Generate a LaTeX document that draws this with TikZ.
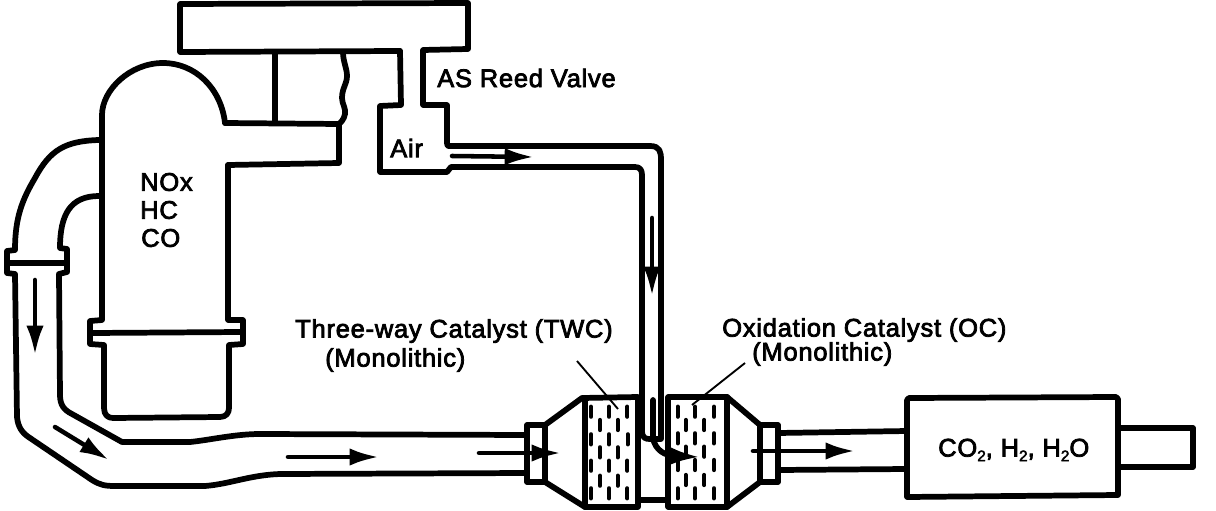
\documentclass[tikz,border=0pt]{standalone}
\usepackage{fontspec}
\usetikzlibrary{arrows.meta}
\newfontfamily\labfont[FakeBold=3,LetterSpace=3]{Liberation Sans}
\newcommand{\subtwo}{\raisebox{-3.5pt}{\fontsize{11.5pt}{12pt}\selectfont 2}}
\tikzset{
  wall/.style={line width=4.3pt,line join=round,line cap=round,black},
  leader/.style={line width=1.4pt,black},
  flow/.style={line width=3.4pt,line cap=round,black,-{Latex[length=22pt,width=13pt]}},
  pellet/.style={line width=3.2pt,line cap=round,black},
  lab/.style={font=\labfont\fontsize{19.1pt}{22pt}\selectfont,inner sep=0pt,black,anchor=west},
}
\begin{document}
\begin{tikzpicture}[x=0.75pt,y=-0.75pt]
\path[use as bounding box,fill=white] (0,0) rectangle (1216,510);
% plenum, reed valve and air chamber
\draw[wall] (400,51) -- (180,52) -- (180,4) -- (468,3) -- (468,49) -- (423,50) -- (423,105) -- (447,105) -- (447,143) .. controls (447,146) .. (451,146) -- (650,146) .. controls (660,146) and (661,152) .. (661,160) -- (661,400);
\draw[wall] (400,51) -- (401,105) -- (380,106) -- (380,172) -- (447,172) -- (451,167) -- (635,167) .. controls (640,167) and (642,170) .. (642,175) -- (642,430);
\draw[wall] (275,52) -- (275,123);
\draw[wall] (343,52) .. controls (343,62) and (347,68) .. (347,76) .. controls (347,84) and (342,88) .. (342,98) .. controls (342,104) and (346,108) .. (345,114) .. controls (344,120) and (340,123) .. (339,124) -- (339,163) -- (228,165);
% manifold
\draw[wall] (225,123) -- (339,124);
\draw[wall] (225,123) .. controls (221,88) and (195,63) .. (163,63) .. controls (130,63) and (102,90) .. (102,115) -- (102,320) -- (90,321) -- (90,344) -- (104,345) -- (104,408) .. controls (104,415) and (108,418) .. (113,418) -- (220,417) .. controls (226,417) and (229,413) .. (229,408) -- (229,345) -- (243,344) -- (243,320) -- (228,320) -- (228,165);
\draw[wall] (92,333) -- (241,332);
% exhaust pipe
\draw[wall] (99,140) .. controls (65,141) and (50,150) .. (35,178) .. controls (22,200) and (15,218) .. (15,250) -- (7,251) -- (7,273) -- (15,274) -- (17,417) .. controls (18,427) and (22,433) .. (30,438) -- (92,480) .. controls (100,485) and (105,486) .. (115,486) -- (205,486) .. controls (230,484) and (250,475) .. (280,474) -- (527,473);
\draw[wall] (99,196) .. controls (70,196) and (60,215) .. (60,248) -- (67,249) -- (67,272) -- (59,274) -- (60,395) .. controls (60,405) and (64,410) .. (72,414) -- (122,442) -- (190,442) .. controls (210,440) and (235,434) .. (260,434) -- (527,435);
\draw[wall] (9,263) -- (65,263);
% three-way catalyst
\draw[wall] (527,425) rectangle (545,482);
\draw[wall] (545,425) -- (582,398) -- (638,397) -- (638,507) -- (585,507) -- (545,482);
\draw[wall] (585,400) -- (585,507);
% oxidation catalyst
\draw[wall] (727,397) -- (668,397) -- (668,507) -- (727,507) -- (760,482);
\draw[wall] (727,397) -- (727,507);
\draw[wall] (727,397) -- (760,425);
\draw[wall] (760,425) rectangle (778,482);
\draw[wall] (638,500) -- (668,500);
% air injection tube end
\draw[wall] (642,430) .. controls (642,438) and (645,439) .. (650,439) -- (661,439) -- (661,400);
\draw[wall] (653,400) -- (653,438) .. controls (655,450) and (665,456) .. (676,456);
% outlet pipes and muffler
\draw[wall] (778,433) -- (907,431);
\draw[wall] (778,470) -- (907,469);
\draw[wall] (909,398) -- (1116,397) -- (1118,399) -- (1118,495) -- (907,497) -- (907,400) -- cycle;
\draw[wall] (1118,428) -- (1193,428) -- (1193,467) -- (1118,467);
% pellets
\foreach \x/\y in {243/125,297/125,352/125,270/165,323/165,243/208,297/208,353/208,270/247,323/247,243/287,297/287,352/287,270/332,323/332,243/370,297/370,352/370,
503/125,555/125,612/125,527/165,583/165,503/205,555/205,612/205,527/245,583/245,503/285,555/285,612/285,527/330,583/330,503/370,555/370,612/370}
  \draw[pellet] (510+\x/3,370+\y/3-5) -- (510+\x/3,370+\y/3+5);
% leaders
\draw[leader] (577,361) -- (618,409);
\draw[leader] (745,363) -- (692,405);
% flow arrows
\draw[flow] (452,156) -- (534,157);
\draw[flow] (652,218) -- (652,296);
\draw[flow] (35,280) -- (35,355);
\draw[flow] (55,427) -- (109,460);
\draw[flow] (288,457) -- (379,457);
\draw[flow] (479,453) -- (561,453);
\draw[flow] (670,456) -- (700,457);
\draw[flow] (753,451) -- (855,451);
% labels
\node[lab] (nox) at (140,182) {NOx};
\node[lab] (hc) at (140,210) {HC};
\node[lab] (co) at (141,238) {CO};
\node[lab] (air) at (390,148) {Air};
\node[lab] (reed) at (437,78) {AS Reed Valve};
\node[lab] (twc) at (295,331) {Three-way Catalyst (TWC)};
\node[lab] (twcm) at (325,360) {(Monolithic)};
\node[lab] (oc) at (722,330) {Oxidation Catalyst (OC)};
\node[lab] (ocm) at (752,354) {(Monolithic)};
\node[lab] (gas) at (938,450) {CO\subtwo, H\subtwo, H\subtwo O};
\end{tikzpicture}
\end{document}
